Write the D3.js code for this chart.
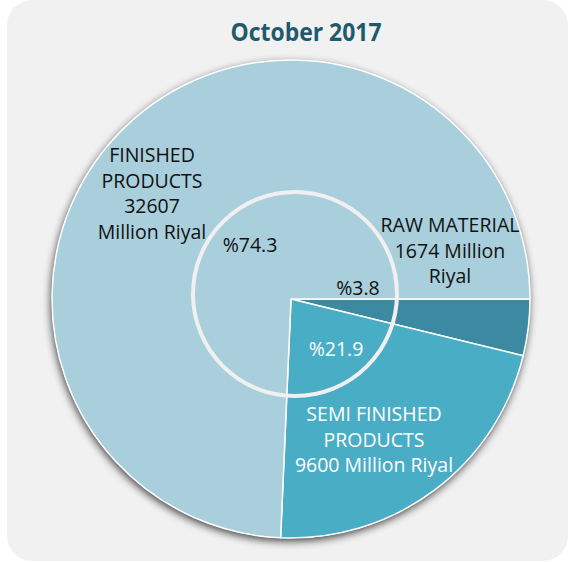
<!DOCTYPE html>
<html>
<head>
<meta charset="utf-8">
<script src="https://cdn.jsdelivr.net/npm/d3@7"></script>
<style>
  html, body { margin: 0; padding: 0; background: #fff; }
  svg { display: block; }
  text { font-family: "Open Sans", "DejaVu Sans", sans-serif; }
</style>
</head>
<body>
<svg id="chart" width="569" height="562"></svg>
<script>
// data
const categories = ["RAW MATERIAL", "SEMI FINISHED PRODUCTS", "FINISHED PRODUCTS"];
const values = [1674, 9600, 32607];
const percents = ["%3.8", "%21.9", "%74.3"];
const labelLines = [
  ["RAW MATERIAL", "1674 Million", "Riyal"],
  ["SEMI FINISHED", "PRODUCTS", "9600 Million Riyal"],
  ["FINISHED", "PRODUCTS", "32607", "Million Riyal"]
];
const colors = ["#3c8aa2", "#4aadc6", "#a9cfdc"];
const title = "October 2017";

const width = 569, height = 562;
const cx = 291, cy = 299, radius = 239;

const svg = d3.select("#chart");

// drop shadow
const defs = svg.append("defs");
const f = defs.append("filter").attr("id", "shadow")
  .attr("x", "-10%").attr("y", "-10%").attr("width", "120%").attr("height", "120%");
f.append("feGaussianBlur").attr("in", "SourceAlpha").attr("stdDeviation", 4).attr("result", "b");
f.append("feOffset").attr("in", "b").attr("dx", -1).attr("dy", 3).attr("result", "o");
f.append("feComponentTransfer").attr("in", "o").attr("result", "s")
  .append("feFuncA").attr("type", "linear").attr("slope", 0.75);
const m = f.append("feMerge");
m.append("feMergeNode").attr("in", "s");
m.append("feMergeNode").attr("in", "SourceGraphic");

// background panel
svg.append("rect")
  .attr("x", 7).attr("y", 0).attr("width", 561).attr("height", 561)
  .attr("rx", 25).attr("fill", "#f1f1f1");

// title: condensed look via textLength
svg.append("text")
  .attr("x", 306).attr("y", 41)
  .attr("text-anchor", "middle")
  .attr("font-size", 24.5).attr("font-weight", "bold")
  .attr("fill", "#1f5a6c")
  .attr("textLength", 151).attr("lengthAdjust", "spacingAndGlyphs")
  .text(title);

const g = svg.append("g").attr("transform", `translate(${cx},${cy})`);

// pie starts at 3 o'clock, runs clockwise
const pie = d3.pie().sort(null).value(d => d)
  .startAngle(Math.PI / 2).endAngle(Math.PI / 2 + 2 * Math.PI);
const arc = d3.arc().innerRadius(0).outerRadius(radius);
const arcs = pie(values);

g.append("circle").attr("r", radius).attr("fill", "#fff").attr("filter", "url(#shadow)");

g.selectAll("path.slice")
  .data(arcs)
  .join("path")
  .attr("class", "slice")
  .attr("d", arc)
  .attr("fill", (d, i) => colors[i])
  .attr("stroke", "#fff")
  .attr("stroke-width", 1.5)
  .attr("stroke-linejoin", "round");

// inner ring
g.append("circle")
  .attr("cx", 4).attr("cy", -5).attr("r", 102)
  .attr("fill", "none").attr("stroke", "#f0f0f0").attr("stroke-width", 4);

// labels
const pctPos = [[67, -4], [45, 57], [-41, -47]];
const pctColor = ["#111", "#fff", "#111"];
g.selectAll("text.pct")
  .data(percents)
  .join("text")
  .attr("class", "pct")
  .attr("x", (d, i) => pctPos[i][0])
  .attr("y", (d, i) => pctPos[i][1])
  .attr("text-anchor", "middle")
  .attr("font-size", 19.5)
  .attr("fill", (d, i) => pctColor[i])
  .text(d => d);

const labelPos = [[159, -67], [83, 122], [-139, -137]];
const labelColor = ["#111", "#fff", "#111"];
labelLines.forEach((lines, i) => {
  const t = g.append("text")
    .attr("text-anchor", "middle")
    .attr("font-size", 19.5)
    .attr("fill", labelColor[i]);
  lines.forEach((ln, j) => {
    t.append("tspan")
      .attr("x", labelPos[i][0])
      .attr("y", labelPos[i][1] + j * 25.5)
      .text(ln);
  });
});
</script>
</body>
</html>
